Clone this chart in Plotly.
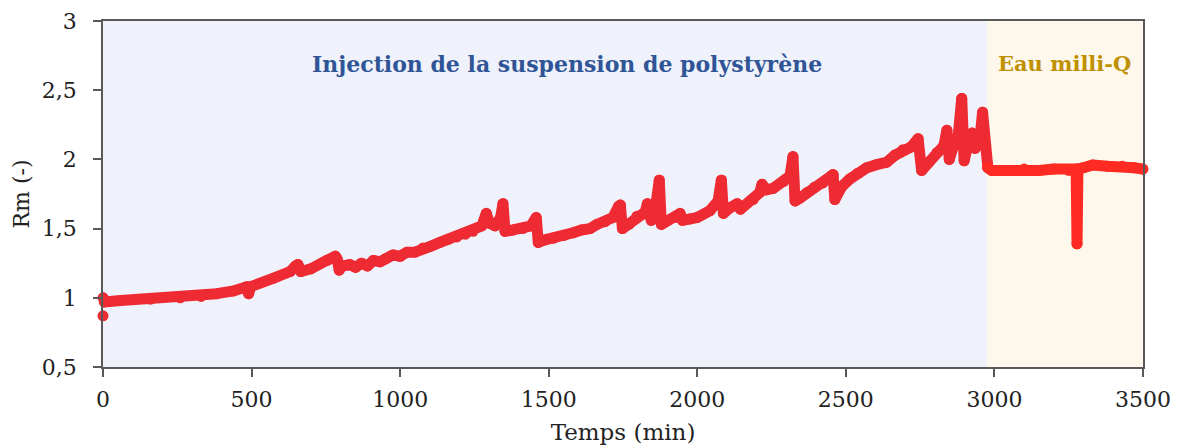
import plotly.graph_objects as go

# Rm versus time during the polystyrene suspension injection (None splits off the first outlier)
time_injection = [
    0, None,
    0, 4, 60, 160, 260, 330, 383, 440, 484, 490, 497, 572, 630, 648, 656, 666, 700, 753,
    782, 788, 795, 805, 831, 850, 870, 890, 910, 932, 950, 976, 1000, 1023, 1050, 1077,
    1100, 1134, 1160, 1191, 1220, 1245, 1275, 1290, 1300, 1319, 1338, 1346, 1353, 1380,
    1413, 1440, 1458, 1465, 1490, 1515, 1550, 1582, 1610, 1639, 1662, 1690, 1716, 1735,
    1741, 1748, 1770, 1797, 1825, 1832, 1845, 1860, 1872, 1879, 1900, 1925, 1942, 1950,
    1975, 1999, 2043, 2070, 2081, 2088, 2110, 2134, 2145, 2188, 2210, 2218, 2232, 2255,
    2290, 2312, 2322, 2329, 2345, 2369, 2395, 2423, 2450, 2457, 2463, 2485, 2514, 2540,
    2571, 2600, 2638, 2665, 2692, 2720, 2743, 2755, 2780, 2807, 2830, 2840, 2848, 2861,
    2878, 2890, 2898, 2912, 2925, 2935, 2950, 2960, 2968, 2978,
]
rm_injection = [
    0.87, None,
    1.00, 0.97, 0.98, 0.99, 1.00, 1.01, 1.03, 1.05, 1.08, 1.03, 1.08, 1.14, 1.19, 1.23, 1.24, 1.19, 1.21, 1.27,
    1.30, 1.28, 1.20, 1.23, 1.24, 1.22, 1.25, 1.23, 1.27, 1.26, 1.28, 1.31, 1.30, 1.33, 1.33, 1.36,
    1.37, 1.40, 1.42, 1.44, 1.46, 1.48, 1.52, 1.61, 1.54, 1.52, 1.58, 1.68, 1.48, 1.49,
    1.50, 1.52, 1.58, 1.40, 1.42, 1.43, 1.45, 1.47, 1.49, 1.50, 1.53, 1.55, 1.58, 1.66,
    1.67, 1.50, 1.53, 1.59, 1.62, 1.68, 1.56, 1.66, 1.85, 1.53, 1.56, 1.58, 1.61, 1.56,
    1.57, 1.58, 1.63, 1.70, 1.85, 1.61, 1.65, 1.68, 1.64, 1.71, 1.76, 1.82, 1.78, 1.79,
    1.84, 1.88, 2.02, 1.70, 1.72, 1.76, 1.80, 1.83, 1.88, 1.89, 1.71, 1.80, 1.86, 1.90,
    1.94, 1.96, 1.98, 2.03, 2.07, 2.09, 2.15, 1.92, 1.98, 2.05, 2.10, 2.21, 2.00, 2.09,
    2.17, 2.44, 1.99, 2.12, 2.19, 2.08, 2.12, 2.34, 2.10, 1.94,
]

# Rm versus time during the milli-Q water rinse
time_water = [2978, 2990, 3050, 3100, 3150, 3200, 3250, 3275, 3278, 3281, 3300, 3330, 3380, 3430, 3470, 3500]
rm_water = [1.94, 1.92, 1.92, 1.93, 1.92, 1.93, 1.92, 1.93, 1.39, 1.93, 1.94, 1.96, 1.95, 1.95, 1.94, 1.93]

# Phase boundaries (min)
injection_end = 2975
time_max = 3500

x_ticks = [0, 500, 1000, 1500, 2000, 2500, 3000, 3500]
x_tick_text = ["0", "500", "1000", "1500", "2000", "2500", "3000", "3500"]
y_ticks = [0.5, 1, 1.5, 2, 2.5, 3]
y_tick_text = ["0,5", "1", "1,5", "2", "2,5", "3"]

FONT = "DejaVu Serif"
AXIS_COLOR = "#595959"
LINE_W = 11

fig = go.Figure()

fig.add_trace(go.Scatter(
    x=time_injection, y=rm_injection, mode="lines+markers",
    line=dict(color="#EE2A33", width=LINE_W), marker=dict(color="#EE2A33", size=LINE_W),
    connectgaps=False, cliponaxis=False, showlegend=False,
))
fig.add_trace(go.Scatter(
    x=time_water, y=rm_water, mode="lines+markers",
    line=dict(color="#FF2B22", width=LINE_W), marker=dict(color="#FF2B22", size=LINE_W),
    cliponaxis=False, showlegend=False,
))

# Shaded phases
fig.add_shape(type="rect", xref="x", yref="y", x0=0, x1=injection_end, y0=0.5, y1=3,
              fillcolor="#EFF2FA", line=dict(width=0), layer="below")
fig.add_shape(type="rect", xref="x", yref="y", x0=injection_end, x1=time_max, y0=0.5, y1=3,
              fillcolor="#FEF8EC", line=dict(width=0), layer="below")

fig.add_annotation(x=1561, y=2.69, xref="x", yref="y", showarrow=False,
                   text="<b>Injection de la suspension de polystyrène</b>",
                   font=dict(family=FONT, size=22, color="#2F5597"))
fig.add_annotation(x=3237, y=2.69, xref="x", yref="y", showarrow=False,
                   text="<b>Eau milli-Q</b>",
                   font=dict(family=FONT, size=21, color="#BF9000"))

fig.update_layout(
    width=1180, height=448,
    margin=dict(l=103, r=37, t=21, b=81),
    paper_bgcolor="white", plot_bgcolor="white",
    font=dict(family=FONT, size=22, color="#222222"),
    xaxis=dict(
        range=[0, time_max], tickvals=x_ticks, ticktext=x_tick_text,
        showgrid=False, zeroline=False, showline=True, mirror=True,
        linecolor=AXIS_COLOR, linewidth=1.5, ticks="outside", ticklen=8,
        tickcolor=AXIS_COLOR, tickwidth=1.5, ticklabelstandoff=4, automargin=False,
        title=dict(text="Temps (min)", font=dict(size=23), standoff=13),
    ),
    yaxis=dict(
        range=[0.5, 3], tickvals=y_ticks, ticktext=y_tick_text,
        showgrid=False, zeroline=False, showline=True, mirror=True,
        linecolor=AXIS_COLOR, linewidth=1.5, ticks="outside", ticklen=8,
        tickcolor=AXIS_COLOR, tickwidth=1.5, ticklabelstandoff=12, automargin=False,
        title=dict(text="Rm (-)", font=dict(size=22), standoff=6),
    ),
)

# Rounded joins and caps for the thick data lines
round_joins = (
    "document.querySelectorAll('.scatterlayer .js-line').forEach(function (p) {"
    "p.style.strokeLinejoin = 'round'; p.style.strokeLinecap = 'round'; });"
)

fig.write_html("out.html", post_script=round_joins)
